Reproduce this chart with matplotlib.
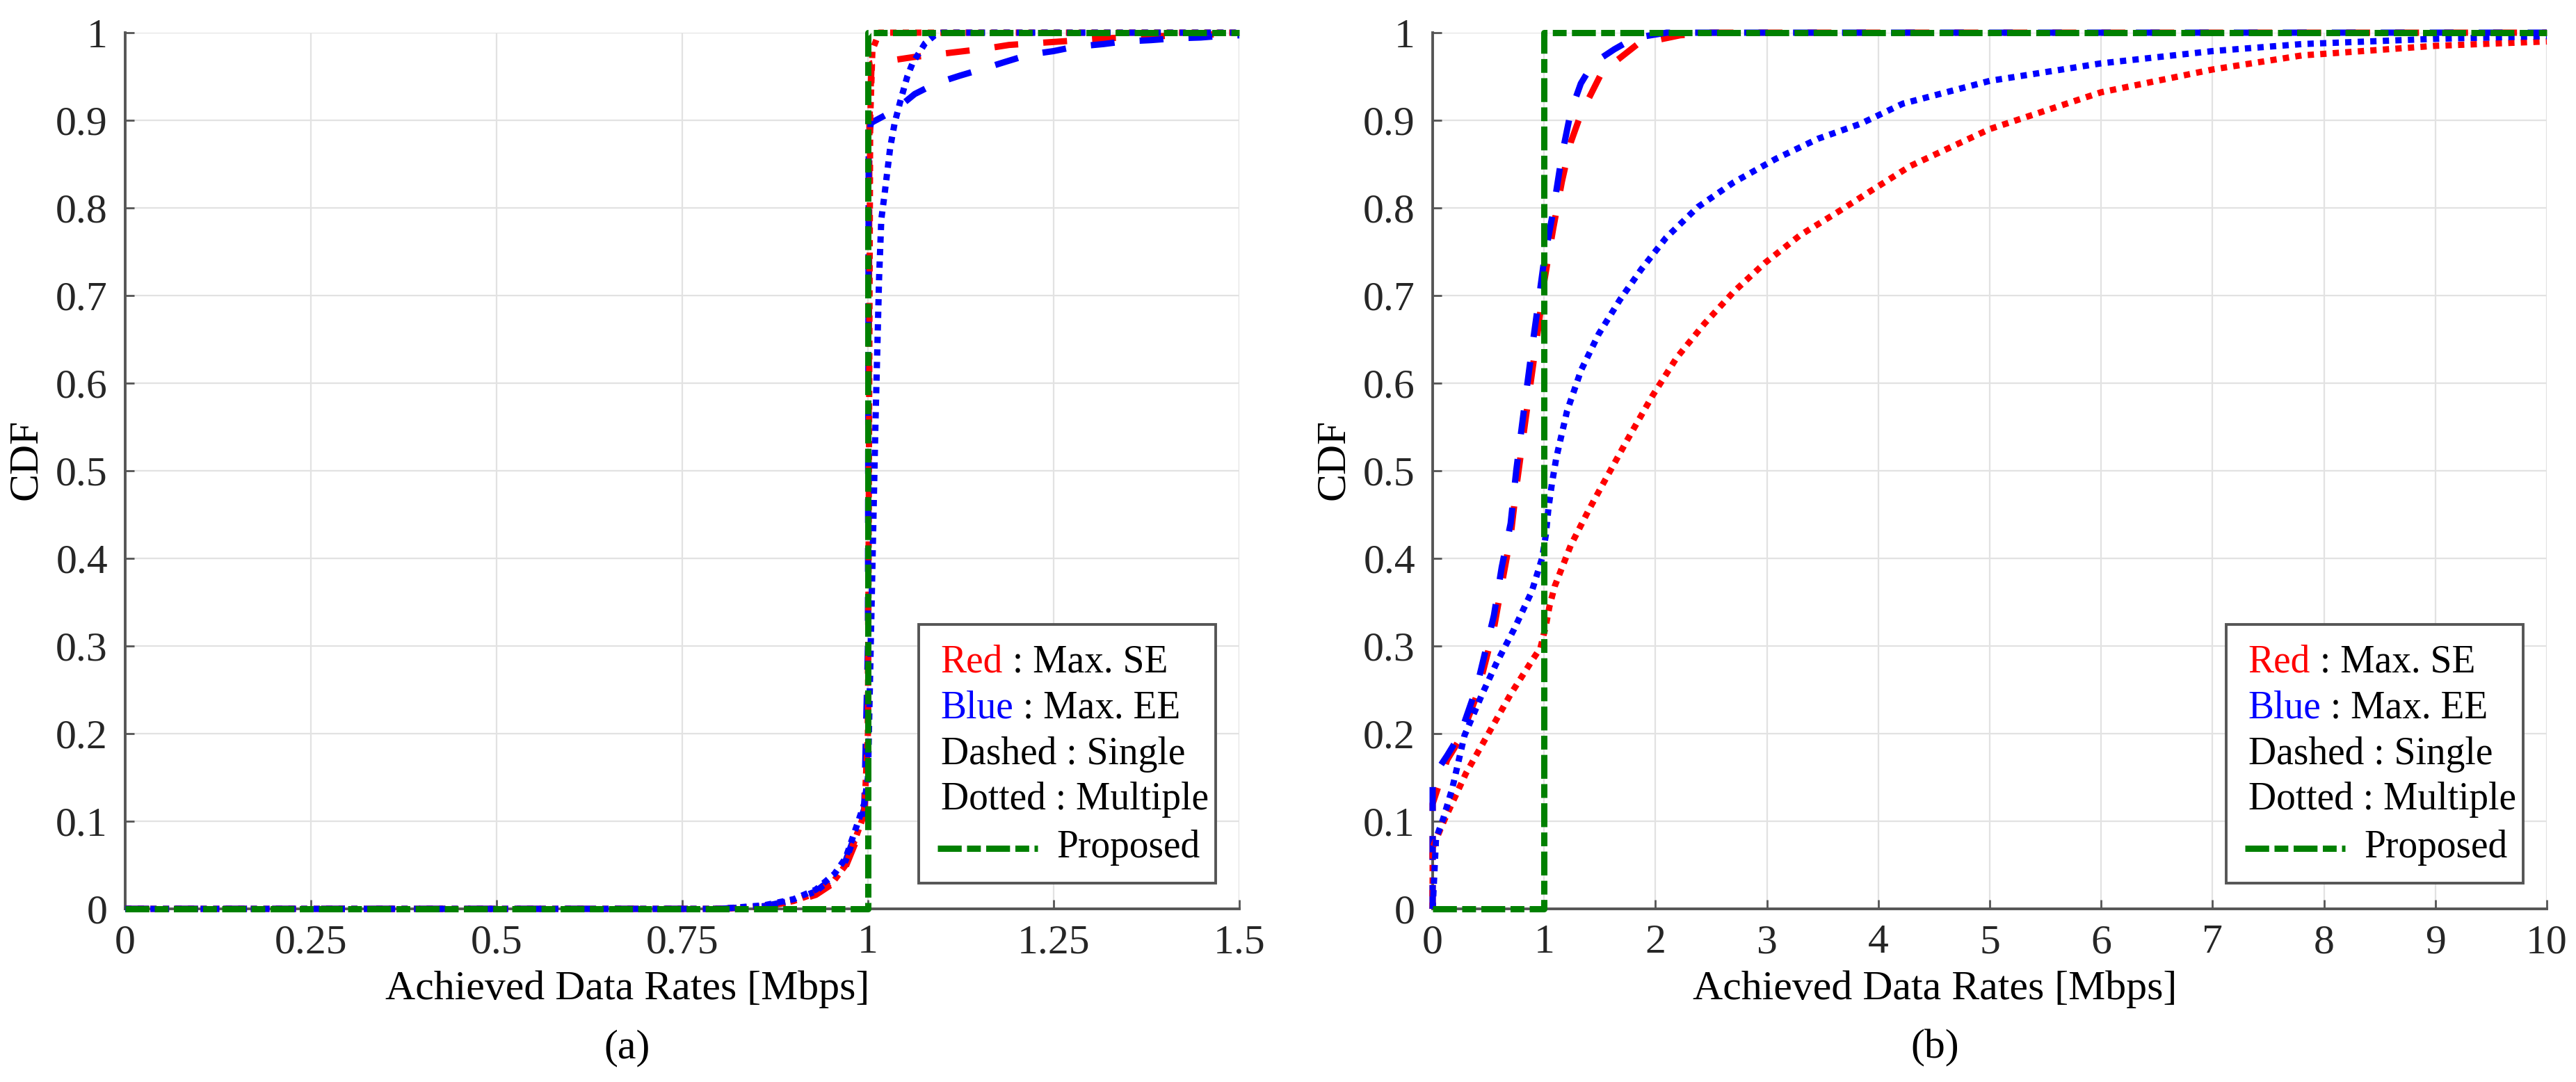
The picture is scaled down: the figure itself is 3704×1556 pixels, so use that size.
import matplotlib
matplotlib.use("Agg")
import matplotlib.pyplot as plt
from matplotlib.patches import Rectangle

# ---- data -------------------------------------------------------------------
# (a) achieved rate 0 .. 1.5 Mbps
a_prop_x = [0, 1.0, 1.0, 1.5]
a_prop_y = [0, 0, 1.0, 1.0]

a_se_single_x = [0, 0.80, 0.86, 0.90, 0.93, 0.955, 0.97, 0.983, 0.995, 1.0, 1.002,
                 1.005, 1.06, 1.13, 1.16, 1.19, 1.26, 1.33, 1.39, 1.46, 1.5]
a_se_single_y = [0, 0, 0.003, 0.008, 0.016, 0.030, 0.048, 0.075, 0.100, 0.20, 0.90,
                 0.965, 0.972, 0.979, 0.982, 0.986, 0.990, 0.994, 0.996, 0.998, 0.998]

a_ee_single_x = [0, 0.80, 0.86, 0.90, 0.93, 0.955, 0.97, 0.983, 0.995, 1.0, 1.001,
                 1.004, 1.037, 1.063, 1.091, 1.124, 1.152, 1.186, 1.217, 1.25, 1.279,
                 1.317, 1.345, 1.381, 1.412, 1.448, 1.478, 1.5]
a_ee_single_y = [0, 0, 0.003, 0.010, 0.020, 0.037, 0.055, 0.085, 0.114, 0.30, 0.88,
                 0.897, 0.912, 0.930, 0.942, 0.951, 0.958, 0.967, 0.975, 0.979, 0.984,
                 0.987, 0.990, 0.9915, 0.9935, 0.9945, 0.9965, 0.997]

a_se_multi_x = [0, 0.80, 0.86, 0.90, 0.93, 0.955, 0.97, 0.983, 0.995, 1.0, 1.003,
                1.006, 1.015, 1.5]
a_se_multi_y = [0, 0, 0.003, 0.009, 0.018, 0.033, 0.050, 0.080, 0.108, 0.20, 0.90,
                0.98, 1.0, 1.0]

a_ee_multi_x = [0, 0.80, 0.86, 0.90, 0.93, 0.955, 0.97, 0.983, 0.995, 1.0, 1.005,
                1.01, 1.015, 1.018, 1.022, 1.026, 1.03, 1.036, 1.044, 1.053, 1.06,
                1.077, 1.09, 1.1, 1.5]
a_ee_multi_y = [0, 0, 0.004, 0.011, 0.022, 0.040, 0.058, 0.090, 0.120, 0.15, 0.35,
                0.55, 0.72, 0.787, 0.813, 0.841, 0.869, 0.897, 0.923, 0.950, 0.965,
                0.988, 0.997, 1.0, 1.0]

# (b) achieved rate 0 .. 10 Mbps
b_prop_x = [0, 1.0, 1.0, 10]
b_prop_y = [0, 0, 1.0, 1.0]

b_ee_single_x = [0, 0, 0.13, 0.25, 0.40, 0.55, 0.62, 0.70, 0.75, 0.83, 0.89, 0.95,
                 1.0, 1.08, 1.16, 1.24, 1.33, 1.44, 1.63, 1.81, 2.1, 10]
b_ee_single_y = [0, 0.15, 0.175, 0.20, 0.255, 0.335, 0.39, 0.44, 0.50, 0.58, 0.638,
                 0.693, 0.74, 0.795, 0.86, 0.91, 0.942, 0.965, 0.981, 0.994, 1.0, 1.0]

b_se_single_x = [0, 0, 0.13, 0.25, 0.40, 0.55, 0.62, 0.70, 0.75, 0.83, 0.89, 0.95,
                 1.0, 1.08, 1.16, 1.24, 1.33, 1.52, 1.84, 2.22, 2.5, 10]
b_se_single_y = [0, 0.12, 0.17, 0.195, 0.245, 0.32, 0.37, 0.425, 0.48, 0.555, 0.61,
                 0.665, 0.715, 0.775, 0.83, 0.875, 0.907, 0.955, 0.987, 0.997, 1.0, 1.0]

b_ee_multi_x = [0, 0.03, 0.095, 0.175, 0.286, 0.444, 0.571, 0.73, 0.889, 0.984, 1.016,
                1.04, 1.07, 1.11, 1.206, 1.333, 1.49, 1.68, 1.873, 2.095, 2.38, 2.70,
                3.08, 3.46, 3.84, 4.22, 5, 6, 7, 7.8, 9, 10]
b_ee_multi_y = [0, 0.08, 0.103, 0.137, 0.198, 0.245, 0.28, 0.319, 0.362, 0.401, 0.427,
                0.458, 0.485, 0.515, 0.568, 0.615, 0.656, 0.695, 0.73, 0.766, 0.801,
                0.829, 0.856, 0.879, 0.896, 0.919, 0.945, 0.965, 0.979, 0.987, 0.993,
                0.996]

b_se_multi_x = [0, 0, 0.1, 0.3, 0.5, 0.7, 0.9, 0.968, 1.016, 1.048, 1.095, 1.24, 1.4,
                1.52, 1.746, 1.97, 2.19, 2.44, 2.70, 2.98, 3.30, 3.62, 3.94, 4.29, 5,
                6, 7, 7.8, 9, 10]
b_se_multi_y = [0, 0.07, 0.10, 0.155, 0.20, 0.245, 0.285, 0.298, 0.323, 0.345, 0.368,
                0.415, 0.455, 0.483, 0.535, 0.585, 0.629, 0.668, 0.704, 0.737, 0.769,
                0.794, 0.82, 0.848, 0.89, 0.932, 0.958, 0.974, 0.985, 0.99]

y_ticks = [0, 0.1, 0.2, 0.3, 0.4, 0.5, 0.6, 0.7, 0.8, 0.9, 1.0]
y_ticklabels = ["0", "0.1", "0.2", "0.3", "0.4", "0.5", "0.6", "0.7", "0.8", "0.9", "1"]
a_ticks = [0, 0.25, 0.5, 0.75, 1.0, 1.25, 1.5]
a_ticklabels = ["0", "0.25", "0.5", "0.75", "1", "1.25", "1.5"]
b_ticks = list(range(0, 11))
b_ticklabels = [str(t) for t in b_ticks]

key_rows = [[("Red", "#ff0000"), (" : Max. SE", "black")],
            [("Blue", "#0000ff"), (" : Max. EE", "black")],
            [("Dashed : Single", "black")],
            [("Dotted : Multiple", "black")]]

# ---- style -------------------------------------------------------------------
plt.rcParams["font.family"] = ["Liberation Serif", "DejaVu Serif"]

RED, BLUE, GREEN = "#ff0000", "#0000ff", "#008000"
AXIS_GRAY = "#555555"
LW = 6.5
DASHED = (3.8, 4.0)
DOTTED = (1.0, 1.0)
DASHDOT = (3.8, 0.85, 2.2, 0.85)
FS = 43
KEY_FS = 40


def style_axes(ax, xlim, xticks, xticklabels):
    ax.set_xlim(*xlim)
    ax.set_ylim(0, 1)
    ax.set_xticks(xticks)
    ax.set_xticklabels(xticklabels)
    ax.set_yticks(y_ticks)
    ax.set_yticklabels(y_ticklabels)
    ax.grid(True, color="#e2e2e2", linewidth=1.6)
    ax.set_axisbelow(True)
    for side in ("top", "right"):
        ax.spines[side].set_visible(False)
    for side in ("left", "bottom"):
        ax.spines[side].set_color(AXIS_GRAY)
        ax.spines[side].set_linewidth(2.8)
    ax.tick_params(direction="in", length=9.5, width=2, color=AXIS_GRAY,
                   labelsize=FS, labelcolor="#262626")
    ax.tick_params(axis="x", pad=16)
    ax.tick_params(axis="y", pad=18)
    ax.set_xlabel("Achieved Data Rates [Mbps]", fontsize=FS)
    ax.xaxis.set_label_coords(0.4507, -0.0706)
    ax.set_ylabel("CDF", fontsize=FS)
    ax.yaxis.set_label_coords(-0.072, 0.513)


def draw_key(ax):
    ax.add_patch(Rectangle((0.712, 0.029), 0.267, 0.296, transform=ax.transAxes,
                           facecolor="white", edgecolor=AXIS_GRAY, linewidth=2.8,
                           zorder=10, clip_on=False))
    for i, row in enumerate(key_rows):
        y = 0.270 - 0.0523 * i
        first, color = row[0]
        t = ax.text(0.732, y, first, color=color, fontsize=KEY_FS, va="baseline",
                    transform=ax.transAxes, zorder=11)
        for label, c in row[1:]:
            ax.annotate(label, xy=(1, 0), xycoords=t, ha="left", va="bottom",
                        fontsize=KEY_FS, color=c, zorder=11)
    ax.plot([0.729, 0.819], [0.069, 0.069], transform=ax.transAxes, color=GREEN,
            lw=LW, dashes=DASHDOT, zorder=11, clip_on=False)
    ax.text(0.836, 0.059, "Proposed", fontsize=KEY_FS, va="baseline",
            transform=ax.transAxes, zorder=11)


def draw_curves(ax, se_s, ee_s, se_m, ee_m, prop):
    kw = dict(lw=LW, clip_on=False)
    ax.plot(*se_s, color=RED, dashes=DASHED, zorder=3, **kw)
    ax.plot(*ee_s, color=BLUE, dashes=DASHED, zorder=3, **kw)
    ax.plot(*se_m, color=RED, dashes=DOTTED, zorder=3, **kw)
    ax.plot(*ee_m, color=BLUE, dashes=DOTTED, zorder=3, **kw)
    ax.plot(*prop, color=GREEN, dashes=DASHDOT, zorder=4, **kw)


fig = plt.figure(figsize=(37.05, 15.56), dpi=100)
ax_a = fig.add_axes([180 / 3705, 249 / 1556, 1602 / 3705, 1260 / 1556])
ax_b = fig.add_axes([2060 / 3705, 249 / 1556, 1602 / 3705, 1260 / 1556])

draw_curves(ax_a, (a_se_single_x, a_se_single_y), (a_ee_single_x, a_ee_single_y),
            (a_se_multi_x, a_se_multi_y), (a_ee_multi_x, a_ee_multi_y),
            (a_prop_x, a_prop_y))
draw_curves(ax_b, (b_se_single_x, b_se_single_y), (b_ee_single_x, b_ee_single_y),
            (b_se_multi_x, b_se_multi_y), (b_ee_multi_x, b_ee_multi_y),
            (b_prop_x, b_prop_y))

style_axes(ax_a, (0, 1.5), a_ticks, a_ticklabels)
style_axes(ax_b, (0, 10), b_ticks, b_ticklabels)
draw_key(ax_a)
draw_key(ax_b)

fig.text(902 / 3705, 0.0315, "(a)", fontsize=FS, ha="center", va="center")
fig.text(2782 / 3705, 0.0315, "(b)", fontsize=FS, ha="center", va="center")

fig.savefig("out.png", dpi=100, facecolor="white")
